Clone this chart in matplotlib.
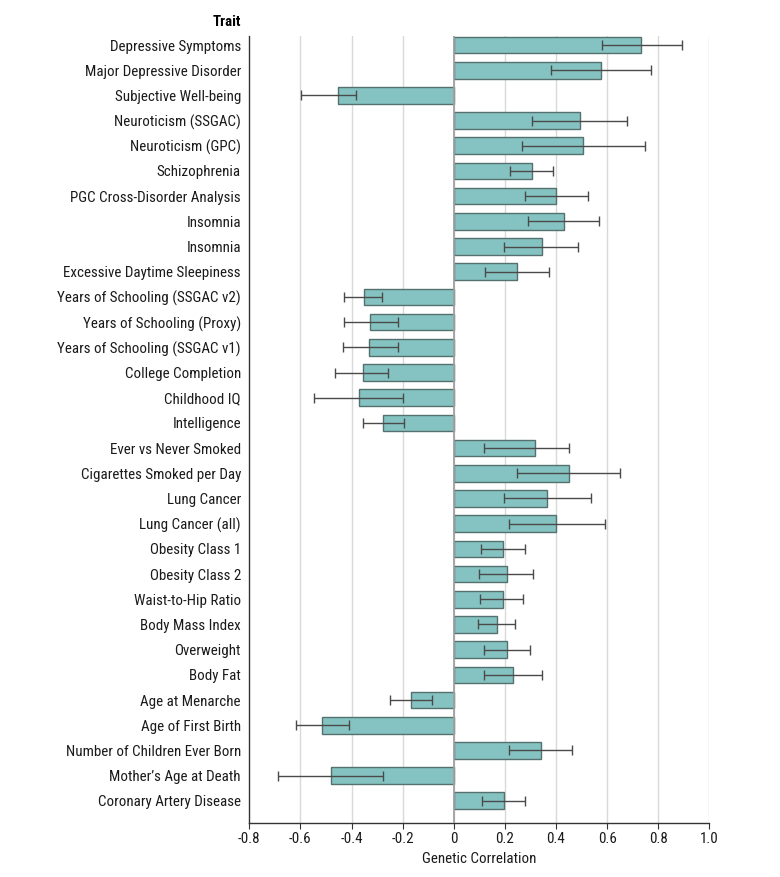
import matplotlib
matplotlib.use("Agg")
import matplotlib.pyplot as plt
import numpy as np

plt.rcParams['font.family'] = ['Roboto Condensed', 'Liberation Sans Narrow',
                               'Liberation Sans', 'DejaVu Sans']

traits = [
    "Depressive Symptoms", "Major Depressive Disorder", "Subjective Well-being",
    "Neuroticism (SSGAC)", "Neuroticism (GPC)", "Schizophrenia",
    "PGC Cross-Disorder Analysis", "Insomnia", "Insomnia",
    "Excessive Daytime Sleepiness", "Years of Schooling (SSGAC v2)",
    "Years of Schooling (Proxy)", "Years of Schooling (SSGAC v1)",
    "College Completion", "Childhood IQ", "Intelligence",
    "Ever vs Never Smoked", "Cigarettes Smoked per Day", "Lung Cancer",
    "Lung Cancer (all)", "Obesity Class 1", "Obesity Class 2",
    "Waist-to-Hip Ratio", "Body Mass Index", "Overweight", "Body Fat",
    "Age at Menarche", "Age of First Birth", "Number of Children Ever Born",
    "Mother\u2019s Age at Death", "Coronary Artery Disease",
]
rg = [0.734, 0.576, -0.454, 0.493, 0.505, 0.306, 0.402, 0.430, 0.344, 0.249,
      -0.353, -0.326, -0.330, -0.357, -0.369, -0.275, 0.319, 0.452, 0.364,
      0.402, 0.194, 0.207, 0.192, 0.169, 0.207, 0.232, -0.167, -0.515,
      0.340, -0.482, 0.198]
ci_low = [0.579, 0.382, -0.596, 0.308, 0.267, 0.222, 0.280, 0.292, 0.196,
          0.123, -0.429, -0.429, -0.435, -0.463, -0.546, -0.356, 0.117,
          0.249, 0.196, 0.218, 0.108, 0.100, 0.104, 0.093, 0.117, 0.117,
          -0.248, -0.617, 0.218, -0.686, 0.112]
ci_high = [0.894, 0.773, -0.381, 0.678, 0.748, 0.390, 0.524, 0.570, 0.488,
           0.374, -0.279, -0.219, -0.219, -0.256, -0.197, -0.193, 0.452,
           0.652, 0.537, 0.591, 0.280, 0.312, 0.271, 0.241, 0.300, 0.347,
           -0.085, -0.411, 0.462, -0.275, 0.280]
xticks = [-0.8, -0.6, -0.4, -0.2, 0, 0.2, 0.4, 0.6, 0.8, 1.0]
xtick_labels = ["-0.8", "-0.6", "-0.4", "-0.2", "0", "0.2", "0.4", "0.6", "0.8", "1.0"]

rg = np.array(rg)
y = np.arange(len(traits))
xerr = [rg - np.array(ci_low), np.array(ci_high) - rg]

fig = plt.figure(figsize=(7.8, 8.77), dpi=100)
ax = fig.add_axes([0.3196, 0.0619, 0.5898, 0.8971])

# light vertical grid (the -0.8 one is the spine)
for xt in xticks[1:]:
    ax.axvline(xt, color='#d9d9d9', lw=1, zorder=0)

ax.barh(y, rg, height=0.66, color='#84c3c1', edgecolor='#56706f', linewidth=1, zorder=2)
ax.axvline(0, color='#a0a0a0', lw=1.3, zorder=3)
ax.errorbar(rg, y, xerr=xerr, fmt='none', ecolor='#4a4a4a', elinewidth=1,
            capsize=3.6, capthick=1, zorder=4)

fs = 10.8
ax.set_xlim(-0.8, 1.0)
ax.set_ylim(30.87, -0.36)
ax.set_yticks(y)
ax.set_yticklabels(traits, fontsize=fs, color='#1a1a1a')
ax.tick_params(axis='y', length=0, pad=6)
ax.set_xticks(xticks)
ax.set_xticklabels(xtick_labels, fontsize=fs, color='#1a1a1a')
ax.tick_params(axis='x', length=4, color='#333333', pad=3)

for s in ['top', 'right']:
    ax.spines[s].set_visible(False)
for s in ['left', 'bottom']:
    ax.spines[s].set_color('#333333')
    ax.spines[s].set_linewidth(1)

ax.set_xlabel("Genetic Correlation", fontsize=fs, labelpad=4, color='#1a1a1a')
fig.text(0.309, 0.975, "Trait", fontsize=fs, fontweight='bold', ha='right', va='center')

fig.savefig("out.png", dpi=100)
